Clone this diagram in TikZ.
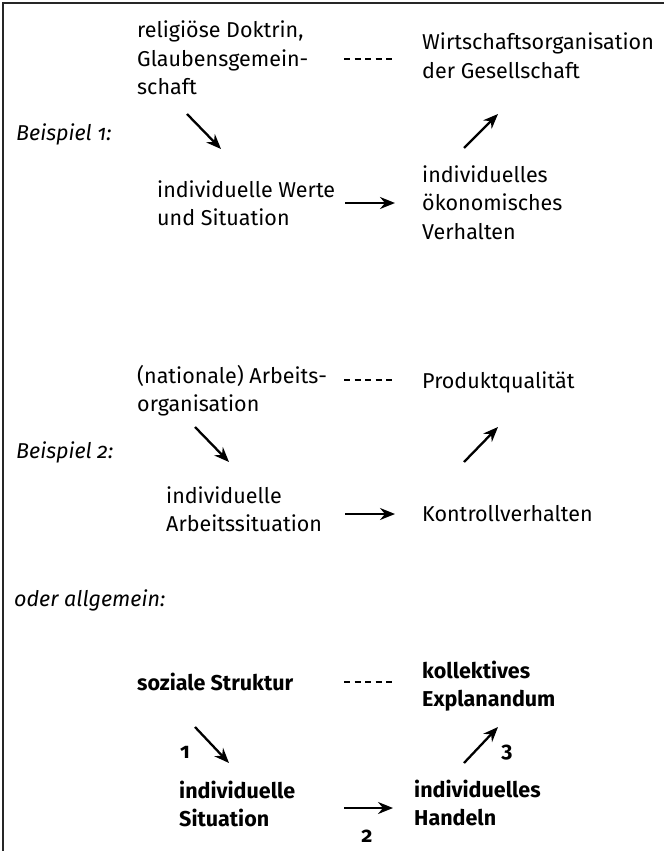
\documentclass[tikz,border=0pt]{standalone}
\usepackage{fontspec}
\setmainfont{Fira Sans}[Numbers=OldStyle]
\usetikzlibrary{arrows.meta}
\newcommand\mylines[1]{\begin{tabular}[t]{@{}l@{}}#1\end{tabular}}
\begin{document}
\begin{tikzpicture}[x=1pt,y=-1pt,
 txt/.style={anchor=base west, inner sep=0pt, font=\fontsize{21.5}{28.5}\selectfont},
 lbl/.style={txt, font=\fontsize{21.5}{28.5}\selectfont\itshape},
 bld/.style={txt, font=\fontsize{21.5}{28.5}\selectfont\bfseries},
 num/.style={bld, anchor=base},
 arr/.style={line width=2.3pt, -{Stealth[length=15pt,width=12pt,inset=5pt]}},
 dsh/.style={line width=2.3pt, dash pattern=on 6pt off 4.5pt},
 frame/.style={line width=1.5pt, draw=black!85}]
\useasboundingbox (0,0) rectangle (664,851);
\draw[frame] (3,851) -- (3,3) -- (664,3);

% Beispiel 1
\node[txt] (a1) at (137,38) {\mylines{religiöse Doktrin,\\Glaubensgemein-\\schaft}};
\node[txt] (b1) at (422,50) {\mylines{Wirtschaftsorganisation\\der Gesellschaft}};
\node[lbl] (l1) at (16,140) {Beispiel 1:};
\node[txt] (c1) at (157,197) {\mylines{individuelle Werte\\und Situation}};
\node[txt] (d1) at (422,182) {\mylines{individuelles\\ökonomisches\\Verhalten}};
\coordinate (d1s) at (344,59); \coordinate (d1e) at (392,59);
\coordinate (p1s) at (187,114); \coordinate (p1e) at (221,149);
\coordinate (q1s) at (464,148); \coordinate (q1e) at (498,114);
\coordinate (r1s) at (345,203); \coordinate (r1e) at (395,203);
\draw[dsh] (d1s) -- (d1e);
\draw[arr] (p1s) -- (p1e);
\draw[arr] (q1s) -- (q1e);
\draw[arr] (r1s) -- (r1e);

% Beispiel 2
\node[txt] (a2) at (137,383) {\mylines{(nationale) Arbeits-\\organisation}};
\node[txt] (b2) at (422,388) {Produktqualität};
\node[lbl] (l2) at (16,458) {Beispiel 2:};
\node[txt] (c2) at (166,503) {\mylines{individuelle\\Arbeitssituation}};
\node[txt] (d2) at (422,521) {Kontrollverhalten};
\coordinate (d2s) at (344,380); \coordinate (d2e) at (392,380);
\coordinate (p2s) at (195,427); \coordinate (p2e) at (229,462);
\coordinate (q2s) at (464,462); \coordinate (q2e) at (498,427);
\coordinate (r2s) at (345,514); \coordinate (r2e) at (395,514);
\draw[dsh] (d2s) -- (d2e);
\draw[arr] (p2s) -- (p2e);
\draw[arr] (q2s) -- (q2e);
\draw[arr] (r2s) -- (r2e);

% allgemein
\node[lbl] (l3) at (14,606) {oder allgemein:};
\node[bld] (a3) at (137,690) {soziale Struktur};
\node[bld] (b3) at (422,678) {\mylines{kollektives\\Explanandum}};
\node[bld] (c3) at (179,798) {\mylines{individuelle\\Situation}};
\node[bld] (d3) at (414,797) {\mylines{individuelles\\Handeln}};
\node[num] (n1) at (185,758) {1};
\node[num] (n2) at (367,842) {2};
\node[num] (n3) at (507,757) {3};
\coordinate (d3s) at (344,682); \coordinate (d3e) at (392,682);
\coordinate (p3s) at (195,727); \coordinate (p3e) at (229,763);
\coordinate (q3s) at (464,763); \coordinate (q3e) at (498,727);
\coordinate (r3s) at (344,808); \coordinate (r3e) at (393,808);
\draw[dsh] (d3s) -- (d3e);
\draw[arr] (p3s) -- (p3e);
\draw[arr] (q3s) -- (q3e);
\draw[arr] (r3s) -- (r3e);
\end{tikzpicture}
\end{document}
